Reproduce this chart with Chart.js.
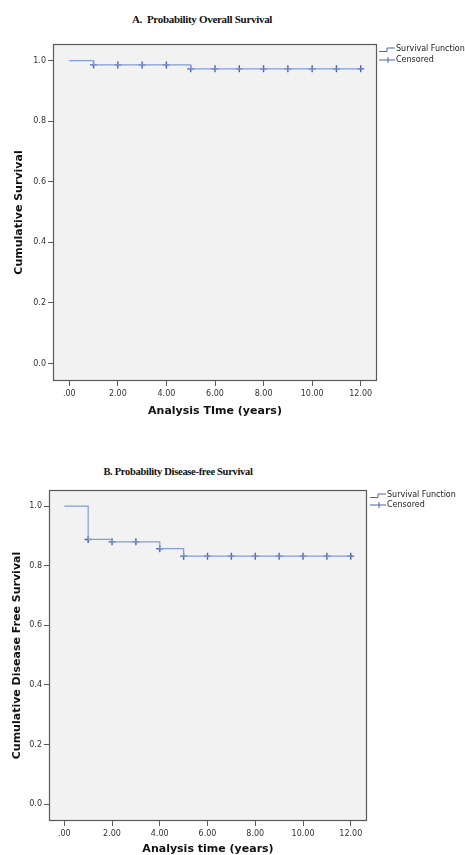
<!DOCTYPE html>
<html>
<head>
<meta charset="utf-8">
<script src="https://cdn.jsdelivr.net/npm/chart.js@4.4.1/dist/chart.umd.min.js"></script>
<style>
  body{margin:0;background:#fff;width:465px;height:855px;position:relative;overflow:hidden;}
  .ttl{position:absolute;font-family:"Liberation Serif",serif;font-weight:bold;letter-spacing:-0.3px;white-space:nowrap;color:#111;transform:translate(-50%,-50%);}
  canvas{position:absolute;left:0;}
</style>
</head>
<body>
<div class="ttl" style="left:202px;top:19px;font-size:11px;">A.&nbsp; Probability Overall Survival</div>
<canvas id="chartA" width="465" height="430" style="top:0px"></canvas>
<div class="ttl" style="left:178px;top:471px;font-size:10.5px;">B. Probability Disease-free Survival</div>
<canvas id="chartB" width="465" height="410" style="top:445px"></canvas>
<script>
// Overall survival (A)
var stepTimesA = [0, 1, 5, 12];
var stepSurvA = [1.0, 0.986, 0.973, 0.973];
var censorTimesA = [1, 2, 3, 4, 5, 6, 7, 8, 9, 10, 11, 12];
var censorSurvA = [0.986, 0.986, 0.986, 0.986, 0.973, 0.973, 0.973, 0.973, 0.973, 0.973, 0.973, 0.973];

// Disease-free survival (B)
var stepTimesB = [0, 1, 2, 4, 5, 12];
var stepSurvB = [1.0, 0.888, 0.880, 0.857, 0.832, 0.832];
var censorTimesB = [1, 2, 3, 4, 5, 6, 7, 8, 9, 10, 11, 12];
var censorSurvB = [0.888, 0.880, 0.880, 0.857, 0.832, 0.832, 0.832, 0.832, 0.832, 0.832, 0.832, 0.832];

var xTicks = [0, 2, 4, 6, 8, 10, 12];
var yTicks = [0, 0.2, 0.4, 0.6, 0.8, 1.0];
var legendLabels = ['Survival Function', 'Censored'];

var lineColor = '#819cd9';
var markColor = '#4a63ae';
var frameColor = '#5a5a5a';

function toPoints(xs, ys){
  var pts = [];
  for (var i = 0; i < xs.length; i++) pts.push({x: xs[i], y: ys[i]});
  return pts;
}

// plot background + frame
var framePlugin = {
  id: 'frame',
  beforeDatasetsDraw: function(chart){
    var a = chart.chartArea, ctx = chart.ctx;
    ctx.save();
    ctx.fillStyle = '#f2f2f2';
    ctx.fillRect(a.left, a.top, a.right - a.left, a.bottom - a.top);
    ctx.strokeStyle = frameColor;
    ctx.lineWidth = 1.2;
    ctx.strokeRect(a.left + 0.5, a.top + 0.5, a.right - a.left - 1, a.bottom - a.top - 1);
    ctx.restore();
  }
};

// legend with step / cross glyphs to the right of the plot
var kmLegend = {
  id: 'kmLegend',
  afterDraw: function(chart, args, opts){
    var ctx = chart.ctx;
    var x = chart.chartArea.right + opts.dx;
    var y = chart.chartArea.top + opts.dy;
    ctx.save();
    ctx.lineWidth = 1;
    ctx.strokeStyle = markColor;
    // step glyph
    ctx.beginPath();
    ctx.moveTo(x, y + 2.5);
    ctx.lineTo(x + 8, y + 2.5);
    ctx.lineTo(x + 8, y - 1);
    ctx.lineTo(x + 16, y - 1);
    ctx.stroke();
    // cross glyph
    var y2 = y + opts.gap;
    ctx.beginPath();
    ctx.moveTo(x, y2);
    ctx.lineTo(x + 16, y2);
    ctx.moveTo(x + 9, y2 - 3);
    ctx.lineTo(x + 9, y2 + 3);
    ctx.stroke();
    ctx.fillStyle = '#222';
    ctx.font = '8px "DejaVu Sans"';
    ctx.textBaseline = 'middle';
    ctx.fillText(legendLabels[0], x + 17, y);
    ctx.fillText(legendLabels[1], x + 17, y2);
    ctx.restore();
  }
};

function makeChart(id, stepT, stepS, cenT, cenS, cfg){
  var ctx = document.getElementById(id).getContext('2d');
  return new Chart(ctx, {
    type: 'scatter',
    data: {
      datasets: [{
        label: 'Survival Function',
        data: toPoints(stepT, stepS),
        showLine: true,
        stepped: true,
        borderColor: lineColor,
        borderWidth: 1.2,
        pointRadius: 0,
        fill: false
      }, {
        label: 'Censored',
        data: toPoints(cenT, cenS),
        showLine: false,
        pointStyle: 'cross',
        pointRadius: 3.5,
        pointBorderColor: markColor,
        pointBorderWidth: 1.4,
        pointHoverRadius: 3.5
      }]
    },
    options: {
      responsive: false,
      animation: false,
      devicePixelRatio: 1,
      layout: { padding: { top: cfg.top, right: cfg.right, left: 0, bottom: 0 } },
      plugins: {
        legend: { display: false },
        tooltip: { enabled: false },
        kmLegend: { dx: cfg.legDx, dy: cfg.legDy, gap: cfg.legGap }
      },
      scales: {
        x: {
          type: 'linear',
          min: cfg.xmin, max: cfg.xmax,
          afterBuildTicks: function(s){ s.ticks = xTicks.map(function(v){ return {value: v}; }); },
          afterFit: function(s){ s.height = cfg.xh; },
          grid: { drawOnChartArea: false, drawTicks: true, tickLength: 5, color: frameColor, lineWidth: 1 },
          border: { display: false },
          ticks: {
            padding: 3,
            color: '#333',
            font: { family: 'DejaVu Sans', size: 8 },
            callback: function(v){ return v === 0 ? '.00' : v.toFixed(2); }
          },
          title: {
            display: true,
            text: cfg.xTitle,
            color: '#111',
            padding: { top: 0, bottom: cfg.xTitlePad },
            font: { family: 'DejaVu Sans', size: 11, weight: 'bold', lineHeight: 1 }
          }
        },
        y: {
          min: cfg.ymin, max: cfg.ymax,
          afterBuildTicks: function(s){ s.ticks = yTicks.map(function(v){ return {value: v}; }); },
          afterFit: function(s){ s.width = cfg.yw; },
          grid: { drawOnChartArea: false, drawTicks: true, tickLength: 5, color: frameColor, lineWidth: 1 },
          border: { display: false },
          ticks: {
            padding: 2,
            color: '#333',
            font: { family: 'DejaVu Sans', size: 8 },
            callback: function(v){ return v.toFixed(1); }
          },
          title: {
            display: true,
            text: cfg.yTitle,
            color: '#111',
            padding: { top: cfg.yTitlePad, bottom: 0 },
            font: { family: 'DejaVu Sans', size: 11, weight: 'bold', lineHeight: 1 }
          }
        }
      }
    },
    plugins: [framePlugin, kmLegend]
  });
}

makeChart('chartA', stepTimesA, stepSurvA, censorTimesA, censorSurvA, {
  top: 44, right: 88, yw: 53, xh: 49,
  xmin: -0.67, xmax: 12.67, ymin: -0.058, ymax: 1.055,
  xTitle: 'Analysis TIme (years)', yTitle: 'Cumulative Survival',
  xTitlePad: 13, yTitlePad: 14,
  legDx: 2, legDy: 5, legGap: 11
});

makeChart('chartB', stepTimesB, stepSurvB, censorTimesB, censorSurvB, {
  top: 45, right: 98, yw: 49, xh: 34,
  xmin: -0.64, xmax: 12.68, ymin: -0.057, ymax: 1.054,
  xTitle: 'Analysis time (years)', yTitle: 'Cumulative Disease Free Survival',
  xTitlePad: 0, yTitlePad: 12,
  legDx: 3, legDy: 5, legGap: 10
});
</script>
</body>
</html>
